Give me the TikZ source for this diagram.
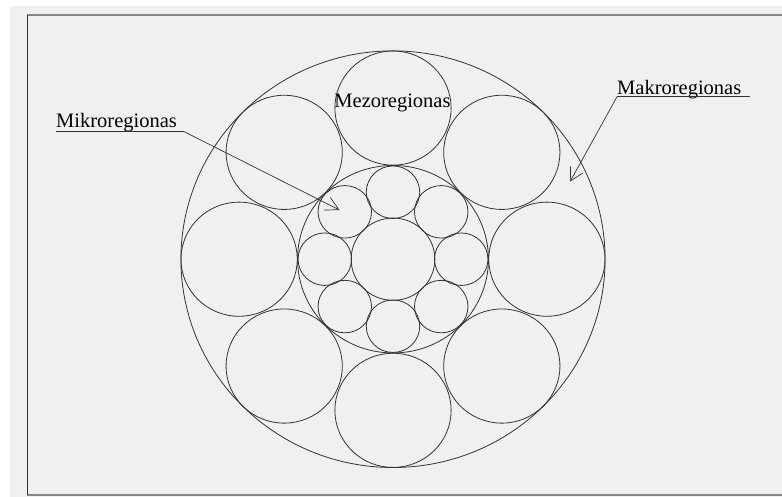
\documentclass[tikz,border=0pt]{standalone}
\usepackage{fontspec}
\setmainfont{Liberation Serif}
\usetikzlibrary{arrows.meta}
\definecolor{bggray}{HTML}{F0F0F0}
\definecolor{ink}{HTML}{333333}
\definecolor{framegray}{HTML}{858585}
\tikzset{
  region/.style={draw=ink, line width=0.8pt},
  lbl/.style={inner sep=0pt, font=\fontsize{20.5}{24}\selectfont, text=black},
  leader/.style={draw=ink, line width=0.7pt, -{Straight Barb[length=13pt,width=14pt]}}
}
\begin{document}
\begin{tikzpicture}[x=1pt,y=-1pt]
\useasboundingbox (0,0) rectangle (782,497);
\fill[white] (0,0) rectangle (782,497);
\fill[bggray] (10,6) rectangle (782,497);
% frame
\draw[framegray, line width=2pt] (27,15) -- (782,15);
\draw[framegray, line width=2pt] (27,495) -- (782,495);
\draw[ink, line width=1pt] (27,15) -- (27,495);
% circles
\begin{scope}[shift={(393,259.2)}, xscale=1.009, yscale=0.991]
  \draw[region] (0,0) circle[radius=210.2];
  \foreach \a in {0,45,...,315}
    \draw[region] (\a:152.5) circle[radius=57.6];
  \draw[region] (0,0) circle[radius=94.6];
  \draw[region] (0,0) circle[radius=41.5];
  \foreach \a in {0,45,...,315}
    \draw[region] (\a:67.6) circle[radius=26.5];
\end{scope}
% labels
\node[lbl, anchor=base] (mezo) at (392.5,108) {Mezoregionas};
\node[lbl, anchor=base west] (mikro) at (56,128) {Mikroregionas};
\node[lbl, anchor=base west] (makro) at (617,95) {Makroregionas};
\coordinate (mikroend) at (184,131.6);
\coordinate (mikrotip) at (339.5,210);
\coordinate (makroend) at (750,96.8);
\coordinate (makrotip) at (570,181.7);
\draw[leader] (mikro.base west |- mikroend) -- (mikroend) -- (mikrotip);
\draw[draw=ink, line width=0.7pt] (makro.base west |- makroend) -- (makroend);
\draw[leader] (makro.base west |- makroend) -- (makrotip);
\end{tikzpicture}
\end{document}
